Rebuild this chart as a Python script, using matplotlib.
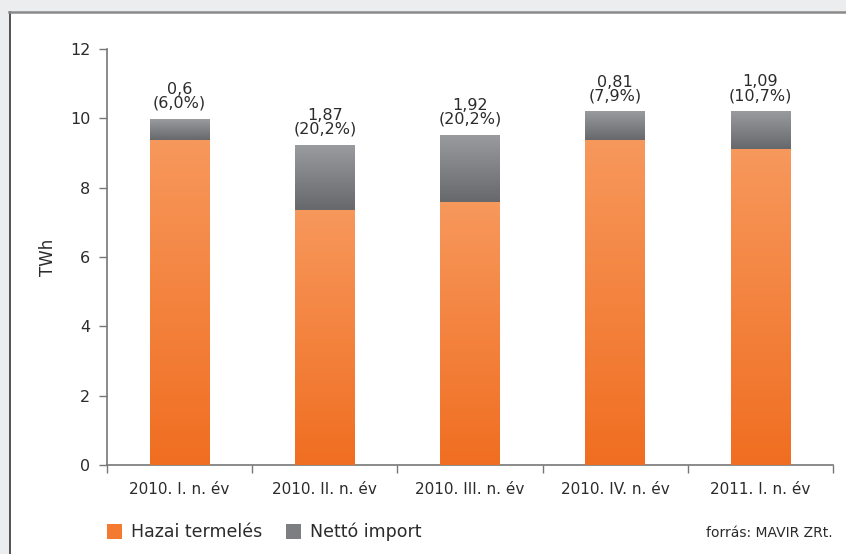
import numpy as np
import matplotlib.pyplot as plt
from matplotlib.colors import LinearSegmentedColormap
from matplotlib.patches import Rectangle

plt.rcParams['font.family'] = ['DejaVu Sans']

# Quarterly electricity supply (TWh)
periods = ['2010. I. n. év', '2010. II. n. év', '2010. III. n. év',
           '2010. IV. n. év', '2011. I. n. év']
domestic = [9.38, 7.36, 7.60, 9.37, 9.11]
net_import = [0.60, 1.87, 1.92, 0.81, 1.09]
import_labels = ['0,6', '1,87', '1,92', '0,81', '1,09']
share_labels = ['(6,0%)', '(20,2%)', '(20,2%)', '(7,9%)', '(10,7%)']

orange_cmap = LinearSegmentedColormap.from_list('orange', ['#f06e21', '#f7985c'])
grey_cmap = LinearSegmentedColormap.from_list('grey', ['#67686b', '#9a9b9e'])

fig = plt.figure(figsize=(8.46, 5.54), dpi=100)
fig.patch.set_facecolor('#ecedee')

# white panel with its border
fig.add_artist(Rectangle((9 / 846, 0), 1, 1 - 12 / 554, transform=fig.transFigure,
                         facecolor='white', edgecolor='none', zorder=-5))
fig.add_artist(plt.Line2D([9.5 / 846, 9.5 / 846], [0, 1 - 12 / 554],
                          transform=fig.transFigure, color='#333333', lw=1.2,
                          zorder=-4))
fig.add_artist(plt.Line2D([9 / 846, 1], [1 - 11.5 / 554, 1 - 11.5 / 554],
                          transform=fig.transFigure, color='#8a8a8a', lw=1.8,
                          zorder=-4))

ax = fig.add_axes([107 / 846, 1 - 465 / 554, 726 / 846, 416 / 554])
ax.set_facecolor('none')

x = np.arange(len(periods))
width = 0.41
bars_dom = ax.bar(x, domestic, width, color='#f58a45', zorder=2)
bars_imp = ax.bar(x, net_import, width, bottom=domestic, color='#808184', zorder=2)

# vertical gradients over each bar segment
grad = np.linspace(0, 1, 256).reshape(-1, 1)
for bars, cmap in ((bars_dom, orange_cmap), (bars_imp, grey_cmap)):
    for b in bars:
        x0, y0 = b.get_x(), b.get_y()
        ax.imshow(grad, cmap=cmap, origin='lower', aspect='auto',
                  extent=(x0, x0 + b.get_width(), y0, y0 + b.get_height()),
                  zorder=3)
        b.set_visible(False)

for i in range(len(periods)):
    top = domestic[i] + net_import[i]
    ax.annotate(import_labels[i] + '\n' + share_labels[i], (x[i], top),
                xytext=(0, 6), textcoords='offset points', ha='center',
                va='bottom', fontsize=11.5, color='#2b2b2b', linespacing=0.92)

ax.set_xlim(-0.5, len(periods) - 0.5)
ax.set_ylim(0, 12)
ax.set_yticks(range(0, 13, 2))
ax.set_xticks(x)
ax.set_xticklabels(periods, fontsize=11, color='#2b2b2b')
ax.set_xticks(np.arange(-0.5, len(periods)), minor=True)
ax.tick_params(axis='x', which='major', length=0, pad=12)
ax.tick_params(axis='x', which='minor', length=6, color='#777777', width=1)
ax.tick_params(axis='y', length=6, color='#777777', width=1, labelsize=11.5,
               labelcolor='#2b2b2b', pad=6)
for side in ('top', 'right'):
    ax.spines[side].set_visible(False)
for side in ('left', 'bottom'):
    ax.spines[side].set_color('#777777')
    ax.spines[side].set_linewidth(1.2)
ax.set_ylabel('TWh', fontsize=12, color='#2b2b2b', labelpad=9)

# legend
fig.add_artist(Rectangle((107 / 846, 1 - 539 / 554), 15 / 846, 15 / 554,
                         transform=fig.transFigure, facecolor='#f37a30',
                         edgecolor='none'))
fig.text(131 / 846, 1 - 532 / 554, 'Hazai termelés', fontsize=12.5,
         color='#2b2b2b', va='center')
fig.add_artist(Rectangle((286 / 846, 1 - 539 / 554), 15 / 846, 15 / 554,
                         transform=fig.transFigure, facecolor='#7d7e81',
                         edgecolor='none'))
fig.text(310 / 846, 1 - 532 / 554, 'Nettó import', fontsize=12.5,
         color='#2b2b2b', va='center')
fig.text(833 / 846, 1 - 533 / 554, 'forrás: MAVIR ZRt.', fontsize=10,
         color='#2b2b2b', va='center', ha='right')

fig.savefig('out.png', dpi=100)
